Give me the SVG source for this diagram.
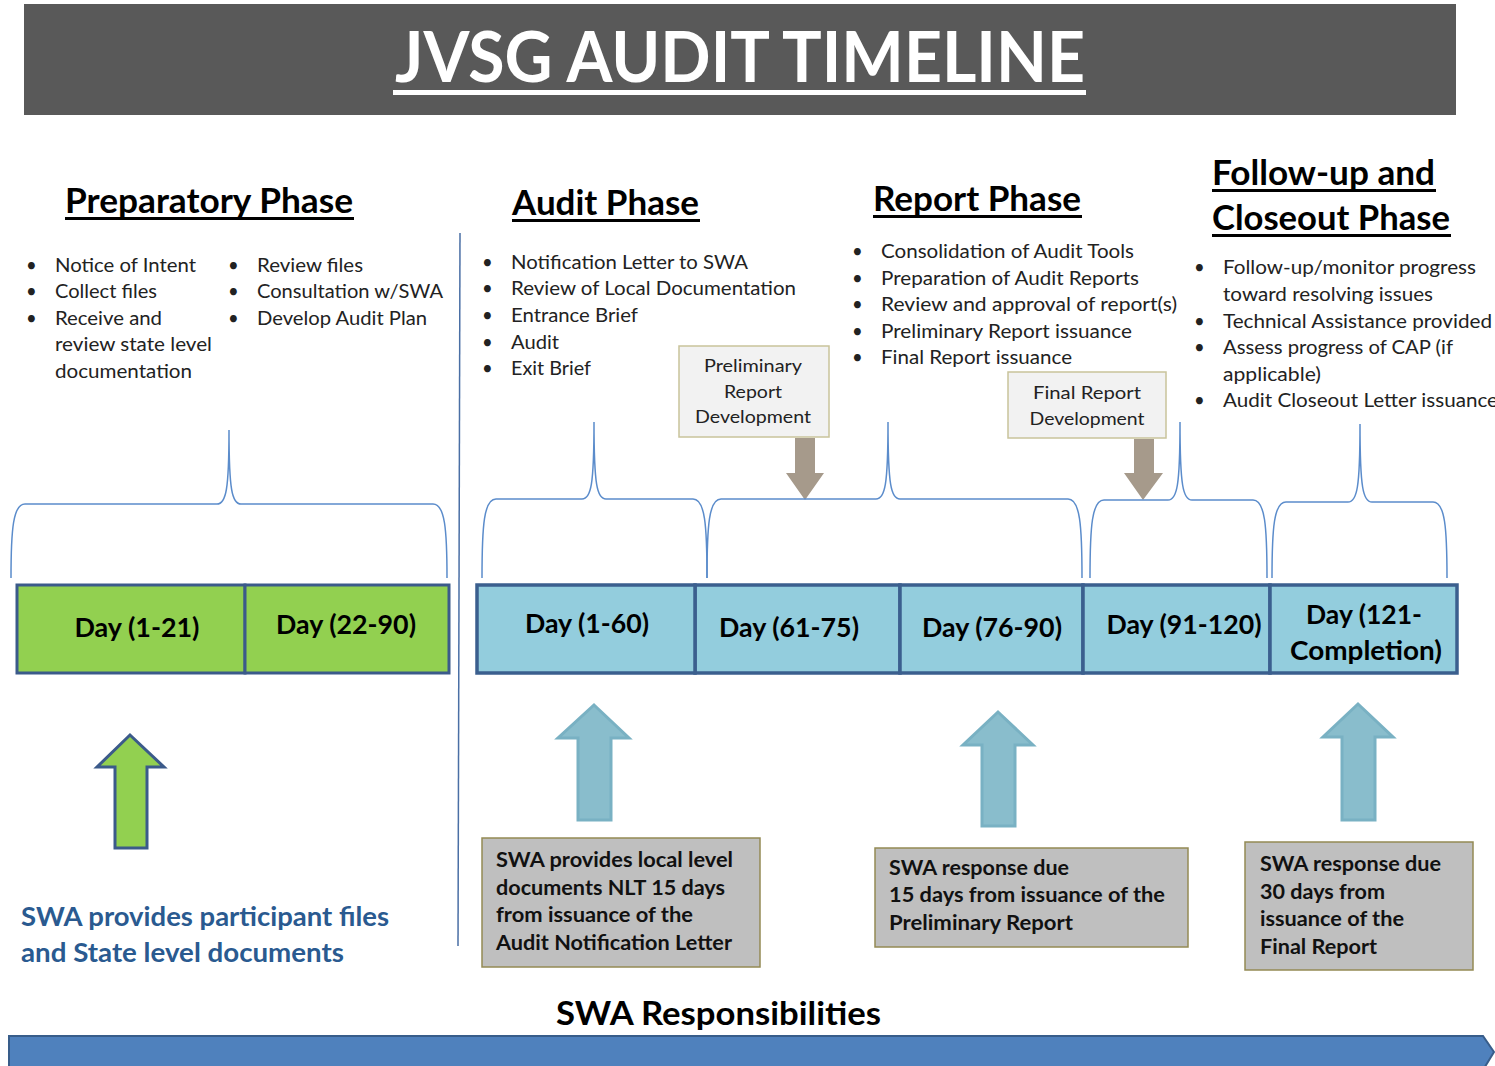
<svg xmlns="http://www.w3.org/2000/svg" width="1495" height="1066" viewBox="0 0 1495 1066">
<style>
text{font-family:Lato,"Open Sans","Liberation Sans",sans-serif;fill:#1a1a1a}
.title{font-size:70px;font-weight:bold;fill:#fff}
.hdr{font-size:35px;font-weight:bold;fill:#000}
.ul{fill:#000}
.b{font-size:18.5px;fill:#222}
.sm{font-size:17.5px;fill:#222}
.day{font-size:27px;font-weight:bold;fill:#000}
.gb{font-size:20px;font-weight:bold;fill:#111}
.blu{font-size:26px;font-weight:bold;fill:#2a5a90}
.resp{font-size:33px;font-weight:bold;fill:#000}
.brace{fill:none;stroke:#5b8ccb;stroke-width:1.5}
.green{fill:#92d050;stroke:#3b5a8a;stroke-width:3}
.cyan{fill:#93cddd;stroke:#3b5f8e;stroke-width:3.5}
.upb{fill:#89bdcc;stroke:#79b1c3;stroke-width:3}
.brown{fill:#a69a8b}
.devbox{fill:#f2f2f2;stroke:#c9c39b;stroke-width:1.5}
.grey{fill:#bfbfbf;stroke:#948a54;stroke-width:1.5}
</style>

<g id="title">
<rect x="24" y="4" width="1432" height="111" fill="#595959"/>
<text class="title" x="395" y="82" textLength="690" lengthAdjust="spacingAndGlyphs">JVSG AUDIT TIMELINE</text>
<rect x="393" y="90" width="693" height="5" fill="#fff"/>
</g>

<g id="divider">
<line x1="460" y1="233" x2="458" y2="946" stroke="#4a6fa5" stroke-width="1.5"/>
</g>

<g id="preparatory-phase">
<text class="hdr" x="65" y="213" textLength="288" lengthAdjust="spacingAndGlyphs">Preparatory Phase</text>
<rect class="ul" x="65" y="217" width="289" height="3"/>
<text class="b" x="26" y="272">•</text><text class="b" x="55" y="272" textLength="141" lengthAdjust="spacingAndGlyphs">Notice of Intent</text>
<text class="b" x="26" y="298">•</text><text class="b" x="55" y="298" textLength="102" lengthAdjust="spacingAndGlyphs">Collect files</text>
<text class="b" x="26" y="325">•</text><text class="b" x="55" y="325" textLength="107" lengthAdjust="spacingAndGlyphs">Receive and</text>
<text class="b" x="55" y="351" textLength="157" lengthAdjust="spacingAndGlyphs">review state level</text>
<text class="b" x="55" y="378" textLength="137" lengthAdjust="spacingAndGlyphs">documentation</text>
<text class="b" x="228" y="272">•</text><text class="b" x="257" y="272" textLength="106" lengthAdjust="spacingAndGlyphs">Review files</text>
<text class="b" x="228" y="298">•</text><text class="b" x="257" y="298" textLength="186" lengthAdjust="spacingAndGlyphs">Consultation w/SWA</text>
<text class="b" x="228" y="325">•</text><text class="b" x="257" y="325" textLength="170" lengthAdjust="spacingAndGlyphs">Develop Audit Plan</text>
</g>

<g id="audit-phase">
<text class="hdr" x="512" y="215" textLength="187" lengthAdjust="spacingAndGlyphs">Audit Phase</text>
<rect class="ul" x="512" y="219" width="188" height="3"/>
<text class="b" x="482" y="269">•</text><text class="b" x="511" y="269" textLength="237" lengthAdjust="spacingAndGlyphs">Notification Letter to SWA</text>
<text class="b" x="482" y="295">•</text><text class="b" x="511" y="295" textLength="285" lengthAdjust="spacingAndGlyphs">Review of Local Documentation</text>
<text class="b" x="482" y="322">•</text><text class="b" x="511" y="322" textLength="127" lengthAdjust="spacingAndGlyphs">Entrance Brief</text>
<text class="b" x="482" y="349">•</text><text class="b" x="511" y="349" textLength="48" lengthAdjust="spacingAndGlyphs">Audit</text>
<text class="b" x="482" y="375">•</text><text class="b" x="511" y="375" textLength="80" lengthAdjust="spacingAndGlyphs">Exit Brief</text>
</g>

<g id="report-phase">
<text class="hdr" x="873" y="211" textLength="208" lengthAdjust="spacingAndGlyphs">Report Phase</text>
<rect class="ul" x="873" y="215" width="209" height="3"/>
<text class="b" x="852" y="258">•</text><text class="b" x="881" y="258" textLength="253" lengthAdjust="spacingAndGlyphs">Consolidation of Audit Tools</text>
<text class="b" x="852" y="285">•</text><text class="b" x="881" y="285" textLength="258" lengthAdjust="spacingAndGlyphs">Preparation of Audit Reports</text>
<text class="b" x="852" y="311">•</text><text class="b" x="881" y="311" textLength="296" lengthAdjust="spacingAndGlyphs">Review and approval of report(s)</text>
<text class="b" x="852" y="338">•</text><text class="b" x="881" y="338" textLength="251" lengthAdjust="spacingAndGlyphs">Preliminary Report issuance</text>
<text class="b" x="852" y="364">•</text><text class="b" x="881" y="364" textLength="191" lengthAdjust="spacingAndGlyphs">Final Report issuance</text>
</g>

<g id="closeout-phase">
<text class="hdr" x="1212" y="185" textLength="223" lengthAdjust="spacingAndGlyphs">Follow-up and</text>
<rect class="ul" x="1212" y="189" width="224" height="3"/>
<text class="hdr" x="1212" y="230" textLength="238" lengthAdjust="spacingAndGlyphs">Closeout Phase</text>
<rect class="ul" x="1212" y="234" width="239" height="3"/>
<text class="b" x="1194" y="274">•</text><text class="b" x="1223" y="274" textLength="253" lengthAdjust="spacingAndGlyphs">Follow-up/monitor progress</text>
<text class="b" x="1223" y="301" textLength="210" lengthAdjust="spacingAndGlyphs">toward resolving issues</text>
<text class="b" x="1194" y="328">•</text><text class="b" x="1223" y="328" textLength="269" lengthAdjust="spacingAndGlyphs">Technical Assistance provided</text>
<text class="b" x="1194" y="354">•</text><text class="b" x="1223" y="354" textLength="230" lengthAdjust="spacingAndGlyphs">Assess progress of CAP (if</text>
<text class="b" x="1223" y="381" textLength="98" lengthAdjust="spacingAndGlyphs">applicable)</text>
<text class="b" x="1194" y="407">•</text><text class="b" x="1223" y="407" textLength="275" lengthAdjust="spacingAndGlyphs">Audit Closeout Letter issuance</text>
</g>

<g id="prelim-dev">
<rect class="devbox" x="679" y="346" width="150" height="91"/>
<text class="sm" x="753" y="372" text-anchor="middle" textLength="98" lengthAdjust="spacingAndGlyphs">Preliminary</text>
<text class="sm" x="753" y="398" text-anchor="middle" textLength="58" lengthAdjust="spacingAndGlyphs">Report</text>
<text class="sm" x="753" y="423" text-anchor="middle" textLength="116" lengthAdjust="spacingAndGlyphs">Development</text>
</g>

<g id="final-dev">
<rect class="devbox" x="1008" y="372" width="158" height="66"/>
<text class="sm" x="1087" y="399" text-anchor="middle" textLength="108" lengthAdjust="spacingAndGlyphs">Final  Report</text>
<text class="sm" x="1087" y="425" text-anchor="middle" textLength="115" lengthAdjust="spacingAndGlyphs">Development</text>
</g>

<g id="connectors">
<path class="brown" d="M795,438 H815 V473 H824 L805,500 L786,473 H795 Z"/>
<path class="brown" d="M1134,439 H1154 V473 H1163 L1143,500 L1124,473 H1134 Z"/>
<path class="brace" d="M11,578 C11,530 13,504 25,504 L217,504 C226,504 229,490 229,430 C229,490 232,504 241,504 L433,504 C445,504 447,530 447,578"/>
<path class="brace" d="M482,578 C482,525 484,499 496,499 L582,499 C591,499 594,485 594,422 C594,485 597,499 606,499 L693,499 C705,499 707,525 707,578"/>
<path class="brace" d="M707,578 C707,525 709,499 721,499 L876,499 C885,499 888,485 888,422 C888,485 891,499 900,499 L1068,499 C1080,499 1082,525 1082,578"/>
<path class="brace" d="M1090,578 C1090,526 1092,500 1104,500 L1168,500 C1177,500 1180,486 1180,422 C1180,486 1183,500 1192,500 L1253,500 C1265,500 1267,526 1267,578"/>
<path class="brace" d="M1272,578 C1272,528 1274,502 1286,502 L1348,502 C1357,502 1360,488 1360,424 C1360,488 1363,502 1372,502 L1433,502 C1445,502 1447,528 1447,578"/>
</g>

<g id="day-1-21">
<rect class="green" x="17" y="585" width="228" height="88"/>
<text class="day" x="137" y="637" text-anchor="middle" textLength="125" lengthAdjust="spacingAndGlyphs">Day (1-21)</text>
</g>
<g id="day-22-90">
<rect class="green" x="245" y="585" width="204" height="88"/>
<text class="day" x="346" y="634" text-anchor="middle" textLength="140" lengthAdjust="spacingAndGlyphs">Day (22-90)</text>
</g>
<g id="day-61-75">
<rect class="cyan" x="695" y="585" width="205" height="88"/>
<text class="day" x="789" y="637" text-anchor="middle" textLength="140" lengthAdjust="spacingAndGlyphs">Day (61-75)</text>
</g>
<g id="day-76-90">
<rect class="cyan" x="900" y="585" width="183" height="88"/>
<text class="day" x="992" y="637" text-anchor="middle" textLength="140" lengthAdjust="spacingAndGlyphs">Day (76-90)</text>
</g>
<g id="day-91-120">
<rect class="cyan" x="1083" y="585" width="187" height="88"/>
<text class="day" x="1184" y="634" text-anchor="middle" textLength="155" lengthAdjust="spacingAndGlyphs">Day (91-120)</text>
</g>
<g id="day-121-completion">
<rect class="cyan" x="1270" y="585" width="187" height="88"/>
<text class="day" x="1364" y="624" text-anchor="middle" textLength="116" lengthAdjust="spacingAndGlyphs">Day (121-</text>
<text class="day" x="1366" y="660" text-anchor="middle" textLength="152" lengthAdjust="spacingAndGlyphs">Completion)</text>
</g>
<g id="day-1-60">
<rect class="cyan" x="477" y="585" width="218" height="88" stroke="#1f3a60"/>
<text class="day" x="587" y="633" text-anchor="middle" textLength="124" lengthAdjust="spacingAndGlyphs">Day (1-60)</text>
</g>

<g id="arrow-green">
<path class="green" d="M130,735 L164,767 H147 V848 H115 V767 H97 Z"/>
</g>
<g id="arrow-audit">
<path class="upb" d="M594,705 L629,738 H611 V820 H578 V738 H558 Z"/>
</g>
<g id="arrow-report">
<path class="upb" d="M998,712 L1033,745 H1015 V826 H982 V745 H963 Z"/>
</g>
<g id="arrow-closeout">
<path class="upb" d="M1358,704 L1393,737 H1375 V820 H1342 V737 H1323 Z"/>
</g>

<g id="swa-participant-files">
<text class="blu" x="21" y="926" textLength="368" lengthAdjust="spacingAndGlyphs">SWA provides participant files</text>
<text class="blu" x="21" y="962" textLength="323" lengthAdjust="spacingAndGlyphs">and State level documents</text>
</g>

<g id="swa-local-docs">
<rect class="grey" x="482" y="838" width="278" height="129"/>
<text class="gb" x="496" y="867" textLength="237" lengthAdjust="spacingAndGlyphs">SWA provides local level</text>
<text class="gb" x="496" y="895" textLength="229" lengthAdjust="spacingAndGlyphs">documents NLT 15 days</text>
<text class="gb" x="496" y="922" textLength="197" lengthAdjust="spacingAndGlyphs">from issuance of the</text>
<text class="gb" x="496" y="950" textLength="236" lengthAdjust="spacingAndGlyphs">Audit Notification Letter</text>
</g>

<g id="swa-response-15">
<rect class="grey" x="875" y="848" width="313" height="99"/>
<text class="gb" x="889" y="875" textLength="180" lengthAdjust="spacingAndGlyphs">SWA response due</text>
<text class="gb" x="889" y="902" textLength="276" lengthAdjust="spacingAndGlyphs">15 days from issuance of the</text>
<text class="gb" x="889" y="930" textLength="184" lengthAdjust="spacingAndGlyphs">Preliminary Report</text>
</g>

<g id="swa-response-30">
<rect class="grey" x="1245" y="842" width="228" height="128"/>
<text class="gb" x="1260" y="871" textLength="181" lengthAdjust="spacingAndGlyphs">SWA response due</text>
<text class="gb" x="1260" y="899" textLength="125" lengthAdjust="spacingAndGlyphs">30 days from</text>
<text class="gb" x="1260" y="926" textLength="144" lengthAdjust="spacingAndGlyphs">issuance of the</text>
<text class="gb" x="1260" y="954" textLength="117" lengthAdjust="spacingAndGlyphs">Final Report</text>
</g>

<g id="swa-responsibilities">
<text class="resp" x="556" y="1025" textLength="325" lengthAdjust="spacingAndGlyphs">SWA Responsibilities</text>
<path d="M9,1036 H1483 L1494,1052 L1483,1070 H9 Z" fill="#4f81bd" stroke="#385d8a" stroke-width="2"/>
</g>
</svg>
